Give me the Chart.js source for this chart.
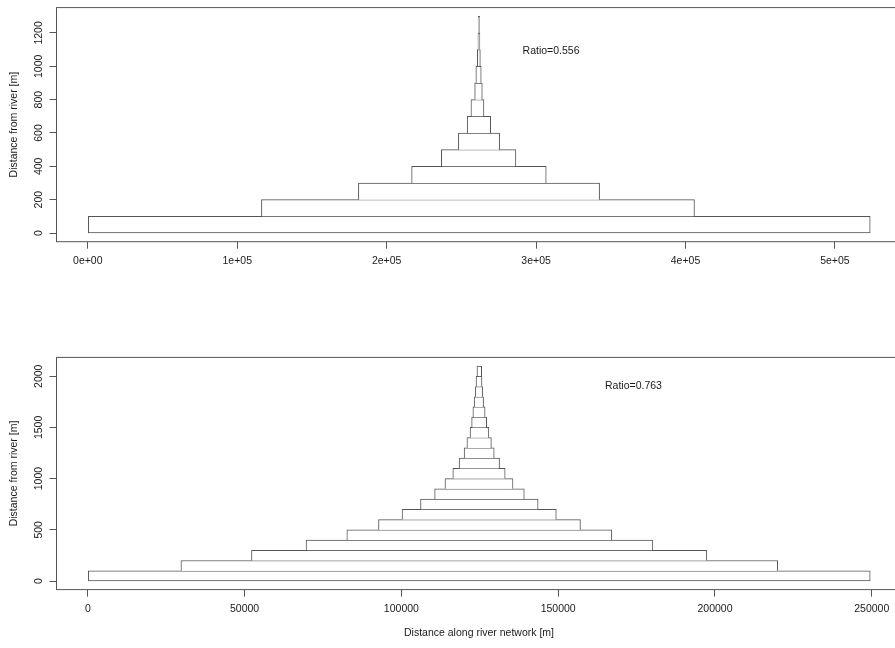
<!DOCTYPE html>
<html>
<head>
<meta charset="utf-8">
<script src="https://cdn.jsdelivr.net/npm/chart.js@4.4.1/dist/chart.umd.min.js"></script>
<style>
  html, body { margin: 0; padding: 0; width: 895px; height: 648px; overflow: hidden; background: #fff; }
  canvas { position: absolute; left: 0; }
  #upper { top: 0; }
  #lower { top: 320px; }
</style>
</head>
<body>
<canvas id="upper" width="920" height="290"></canvas>
<canvas id="lower" width="920" height="328"></canvas>
<script>
// Every band covers 100 m of distance from the river.
const BAND = 100;

// Upper panel: lower edge of each band (m) and its extent along the network (m)
const upperBandBase = [0, 100, 200, 300, 400, 500, 600, 700, 800, 900, 1000, 1100, 1200];
const upperStart = [0, 116200, 181100, 216700, 236600, 248000, 253900, 256400, 258900, 259700, 260700, 261100, 261300];
const upperEnd   = [523600, 406000, 342500, 306800, 286500, 275600, 269600, 265100, 264000, 263300, 262700, 262400, 262200];
const upperXTicks = [0, 100000, 200000, 300000, 400000, 500000];
const upperXTickLabels = ['0e+00', '1e+05', '2e+05', '3e+05', '4e+05', '5e+05'];
const upperYTicks = [0, 200, 400, 600, 800, 1000, 1200];
const upperNote = { text: 'Ratio=0.556', x: 310000, y: 1090 };

// Lower panel
const lowerBandBase = [0, 100, 200, 300, 400, 500, 600, 700, 800, 900, 1000,
                       1100, 1200, 1300, 1400, 1500, 1600, 1700, 1800, 1900, 2000];
const lowerStart = [0, 29700, 52200, 69600, 82600, 92700, 100200, 106100, 110600, 113900, 116400,
                    118400, 120000, 120900, 121900, 122400, 122800, 123200, 123600, 123800, 124100];
const lowerEnd   = [249500, 220000, 197400, 180200, 167100, 157100, 149400, 143600, 139200, 135600, 133100,
                    131300, 129600, 128700, 127900, 127200, 126700, 126200, 125900, 125700, 125600];
const lowerXTicks = [0, 50000, 100000, 150000, 200000, 250000];
const lowerXTickLabels = ['0', '50000', '100000', '150000', '200000', '250000'];
const lowerYTicks = [0, 500, 1000, 1500, 2000];
const lowerNote = { text: 'Ratio=0.763', x: 174000, y: 1900 };

const Y_TITLE = 'Distance from river [m]';
const X_TITLE = 'Distance along river network [m]';

const LINE = '#555';
const TEXT = '#1a1a1a';
const FONT = '10.5px "Liberation Sans", Arial, sans-serif';

// R-style axis range: data range padded by 4% on each side
function padded(lo, hi) {
  const d = (hi - lo) * 0.04;
  return [lo - d, hi + d];
}

function bands(base, start, end) {
  return base.map((b, i) => ({ y: b + BAND / 2, x: [start[i], end[i]] }));
}

// Box, rotated y labels, tick labels, titles and note
function rFrame(p) {
  return {
    id: 'rFrame',
    afterDraw(chart) {
      const { ctx, chartArea: a, scales: { x, y } } = chart;
      ctx.save();
      ctx.strokeStyle = LINE;
      ctx.lineWidth = 1;
      ctx.strokeRect(a.left, a.top, a.right - a.left, a.bottom - a.top);

      ctx.fillStyle = TEXT;
      ctx.font = FONT;
      ctx.textAlign = 'center';
      ctx.textBaseline = 'middle';

      p.xTicks.forEach((v, i) => {
        ctx.fillText(p.xLabels[i], x.getPixelForValue(v), a.bottom + 19.5);
      });
      p.yTicks.forEach(v => {
        ctx.save();
        ctx.translate(39, y.getPixelForValue(v));
        ctx.rotate(-Math.PI / 2);
        ctx.fillText(String(v), 0, 0);
        ctx.restore();
      });

      ctx.save();
      ctx.translate(14, (a.top + a.bottom) / 2);
      ctx.rotate(-Math.PI / 2);
      ctx.fillText(Y_TITLE, 0, 0);
      ctx.restore();

      if (p.xTitle) {
        ctx.fillText(p.xTitle, (a.left + a.right) / 2, a.bottom + 44);
      }
      ctx.fillText(p.note.text, x.getPixelForValue(p.note.x), y.getPixelForValue(p.note.y));
      ctx.restore();
    }
  };
}

function panel(id, p) {
  const canvas = document.getElementById(id);
  const W = canvas.width, H = canvas.height;
  const xr = padded(0, Math.max(...p.end));
  const yr = padded(0, p.base[p.base.length - 1] + BAND);

  return new Chart(canvas, {
    type: 'bar',
    data: {
      datasets: [{
        data: bands(p.base, p.start, p.end),
        backgroundColor: '#ffffff',
        borderColor: LINE,
        borderWidth: 1,
        borderSkipped: c => (c.dataIndex === 0 ? false : 'bottom'),
        barPercentage: 1,
        categoryPercentage: 1
      }]
    },
    options: {
      indexAxis: 'y',
      responsive: false,
      animation: false,
      events: [],
      layout: { padding: { top: p.areaTop, left: 0, right: W - p.areaRight, bottom: 0 } },
      plugins: { legend: { display: false }, tooltip: { enabled: false } },
      scales: {
        x: {
          type: 'linear',
          min: xr[0], max: xr[1],
          afterBuildTicks: s => { s.ticks = p.xTicks.map(v => ({ value: v })); },
          afterFit: s => { s.height = H - p.areaBottom; },
          ticks: { display: false },
          border: { display: false },
          grid: { drawOnChartArea: false, drawTicks: true, tickLength: 7, tickColor: LINE, offset: false }
        },
        y: {
          type: 'linear',
          offset: false,
          min: yr[0], max: yr[1],
          afterBuildTicks: s => { s.ticks = p.yTicks.map(v => ({ value: v })); },
          afterFit: s => { s.width = p.areaLeft; },
          ticks: { display: false },
          border: { display: false },
          grid: { drawOnChartArea: false, drawTicks: true, tickLength: 7, tickColor: LINE, offset: false }
        }
      }
    },
    plugins: [rFrame(p)]
  });
}

panel('upper', {
  base: upperBandBase, start: upperStart, end: upperEnd,
  xTicks: upperXTicks, xLabels: upperXTickLabels, yTicks: upperYTicks,
  note: upperNote, xTitle: null,
  areaLeft: 56.5, areaTop: 7.6, areaRight: 901.5, areaBottom: 241.7
});

panel('lower', {
  base: lowerBandBase, start: lowerStart, end: lowerEnd,
  xTicks: lowerXTicks, xLabels: lowerXTickLabels, yTicks: lowerYTicks,
  note: lowerNote, xTitle: X_TITLE,
  areaLeft: 56.5, areaTop: 37.4, areaRight: 901.5, areaBottom: 269.6
});
</script>
</body>
</html>
